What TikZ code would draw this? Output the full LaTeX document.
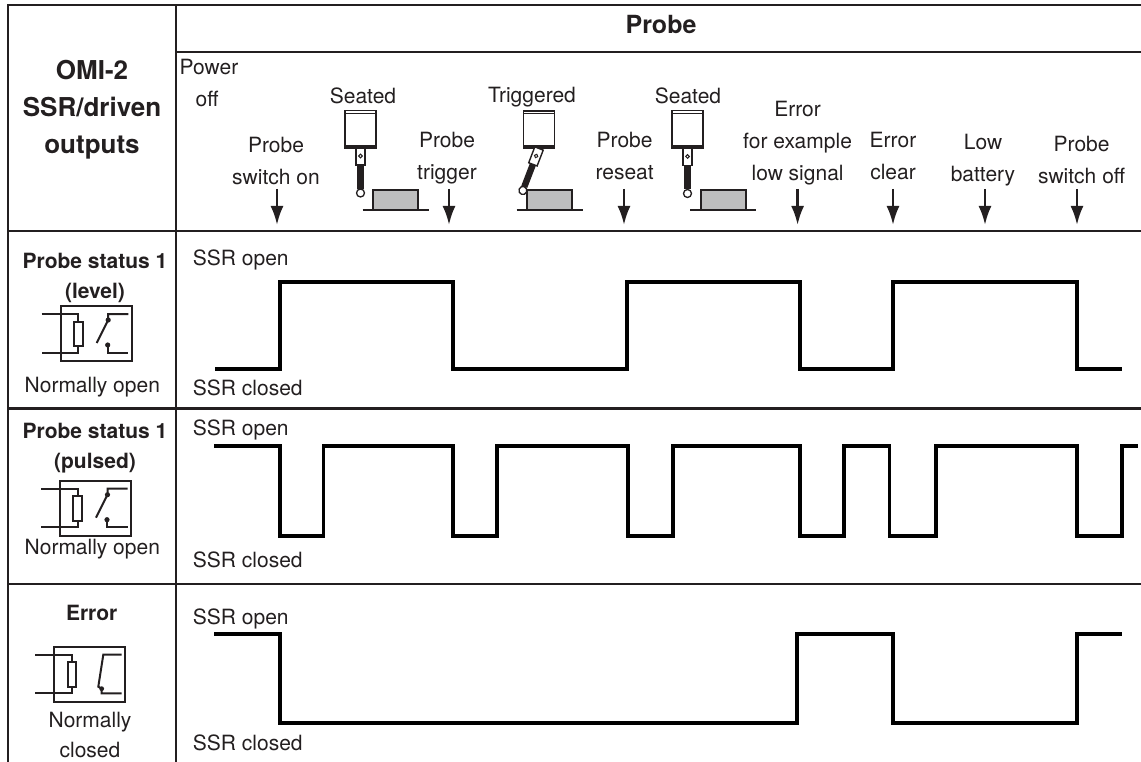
\documentclass[tikz,border=0pt]{standalone}
\usepackage{fontspec}
\setmainfont{TeX Gyre Heros}
\usetikzlibrary{arrows.meta}
\definecolor{ink}{RGB}{35,31,32}
\definecolor{wpgray}{RGB}{190,190,190}
\tikzset{
  txt/.style={font=\fontsize{21}{32}\selectfont,text=ink,inner sep=0pt,align=center},
  hdr/.style={font=\bfseries\fontsize{26}{37}\selectfont,text=ink,inner sep=0pt,align=center},
  rowhdr/.style={font=\bfseries\fontsize{21}{30}\selectfont,text=ink,inner sep=0pt,align=center},
  ssr/.style={txt,anchor=west},
  frame/.style={draw=ink,line width=2.6pt},
  wave/.style={draw=black,line width=3.6pt},
  evarrow/.style={draw=ink,line width=2.6pt,-{Latex[length=19pt,width=13pt]}},
  relayline/.style={draw=ink,line width=2pt},
  % probe head, stylus and part
  probe/.pic={
    \draw[ink,line width=1.6pt,fill=white](-15.5,0)rectangle(15.5,37.5);
    \draw[ink,line width=1pt](-15.5,3)--(15.5,3);
    \draw[ink,line width=3pt](-15.5,36)--(15.5,36);
  },
  stylus/.pic={
    \draw[ink,line width=1.4pt,fill=white](-4.5,0)rectangle(4.5,17);
    \draw[ink,line width=1pt](0,8)circle(1.8);
    \fill[ink](-3.2,17)rectangle(3.2,41);
    \draw[ink,line width=1.3pt,fill=white](0,45)circle(4);
  },
  workpiece/.pic={
    \draw[ink,line width=1.6pt,fill=wpgray](0,0)rectangle(45,-20);
    \draw[ink,line width=1.6pt](-10.5,0)--(55.5,0);
  },
  % relay symbols
  relaybase/.pic={
    \draw[relayline](0,0)rectangle(71,55);
    \draw[relayline](-19,8)--(17.7,8)--(17.7,15.7);
    \draw[relayline](13.3,15.7)rectangle(22,40);
    \draw[relayline](17.7,40)--(17.7,46.7)--(-19,46.7);
  },
  noswitch/.pic={
    \draw[relayline](67.7,8)--(47.5,8)--(47.5,14)--(36,37);
    \fill[ink](47.5,14)circle(2.6);
    \fill[ink](47,39)circle(2.6);
    \draw[relayline](47,39)--(47,46.7)--(67.7,46.7);
  },
  ncswitch/.pic={
    \draw[relayline](67.4,8)--(49,8)--(44,40)--(47.4,42)--(47.4,46.7)--(67.4,46.7);
    \fill[ink](47.4,42)circle(2.4);
  },
}
\begin{document}
\begin{tikzpicture}[x=1pt,y=-1pt]
  \useasboundingbox(0,0)rectangle(1141,762);
  % table lines
  \draw[frame](1141,5)--(8,5)--(8,762);
  \draw[frame](176,5)--(176,762);
  \draw[frame](176,52)--(1141,52);
  \foreach \y in {231,408.5,584}
    \draw[frame](8,\y)--(1141,\y);
  % headings
  \node[hdr](omi)at(92,110){OMI-2\\SSR/driven\\outputs};
  \node[hdr,font=\bfseries\fontsize{25}{30}\selectfont](probe)at(661,25){Probe};
  \node[txt,align=left,anchor=west](pwr)at(179.5,83){Power\\\hspace{16pt}off};
  \node[txt](seat1)at(363,96){Seated};
  \node[txt](trig)at(532,97){Triggered};
  \node[txt](seat2)at(688,96){Seated};
  % probe states
  \pic at(360.5,110.7){probe};
  \pic at(360.5,148){stylus};
  \pic at(373,210){workpiece};
  \pic at(539,111){probe};
  \pic[rotate=-21] at(539,148.5){stylus};
  \pic at(527,210){workpiece};
  \pic at(687.5,110.7){probe};
  \pic at(687.5,148.5){stylus};
  \pic at(700.7,210){workpiece};
  % events
  \node[txt](son)at(276,161.4){Probe\\switch on};
  \node[txt](trg)at(447,158){Probe\\trigger};
  \node[txt](rst)at(624.6,156){Probe\\reseat};
  \node[txt](err)at(797.6,143){Error\\for example\\low signal};
  \node[txt](clr)at(893,156.3){Error\\clear};
  \node[txt](bat)at(983,160){Low\\battery};
  \node[txt](sof)at(1081.6,160.3){Probe\\switch off};
  \foreach \x/\n in {277/son,449/trg,624/rst,797.6/err,893/clr,985/bat,1077/sof}{
    \coordinate(top\n)at(\x,189);
    \coordinate(tip\n)at(\x,225);
    \draw[evarrow](top\n)--(tip\n);
  }
  % output rows
  \node[rowhdr](lvl)at(95,278.4){Probe status 1\\(level)};
  \pic at(60.7,306){relaybase};
  \pic at(60.7,306){noswitch};
  \node[txt](no1)at(92.3,387){Normally open};
  \node[rowhdr](pls)at(95,447.9){Probe status 1\\(pulsed)};
  \pic at(60,480.7){relaybase};
  \pic at(60,480.7){noswitch};
  \node[txt](no2)at(92.3,548.7){Normally open};
  \node[rowhdr](erh)at(91.7,613.3){Error};
  \pic at(54.3,646.7){relaybase};
  \pic at(54.3,646.7){ncswitch};
  \node[txt,font=\fontsize{21}{30}\selectfont](nc)at(90,735){Normally\\closed};
  % SSR levels
  \node[ssr](o1)at(192.7,260){SSR open};
  \node[ssr](c1)at(192.7,387.7){SSR closed};
  \node[ssr](o2)at(192.7,430){SSR open};
  \node[ssr](c2)at(192.7,560){SSR closed};
  \node[ssr](o3)at(192.7,618.7){SSR open};
  \node[ssr](c3)at(192.7,742.7){SSR closed};
  % waveforms
  \draw[wave](215,369)-|(280,282)-|(453,369)-|(627,282)-|(800,369)-|(893,282)-|(1077,369)--(1122,369);
  \draw[wave](214,446)-|(280,536)-|(323.6,446)-|(453,536)-|(497,446)-|(628,536)-|(673,446)-|(800,536)-|(844,446)-|(889.5,536)-|(936,446)-|(1077,536)-|(1122,446)--(1138,446);
  \draw[wave](214,634)-|(280,723)-|(797,634)-|(893,723)-|(1077,634)--(1122,634);
\end{tikzpicture}
\end{document}
